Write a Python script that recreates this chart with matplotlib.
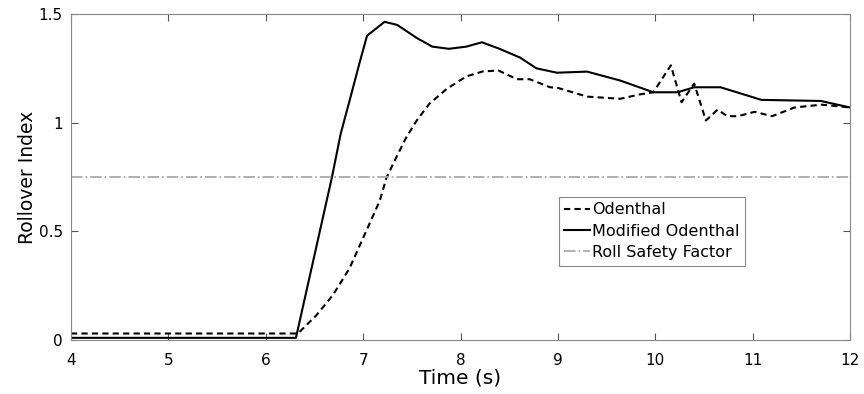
import matplotlib.pyplot as plt

plt.rcParams['font.family'] = ['DejaVu Sans']

# Odenthal rollover index
t_od = [4.0, 6.33, 6.52, 6.69, 6.86, 7.03, 7.17, 7.24, 7.34, 7.44, 7.55, 7.68,
        7.86, 8.06, 8.23, 8.39, 8.58, 8.71, 8.92, 9.0, 9.3, 9.64, 9.84, 9.98,
        10.16, 10.27, 10.40, 10.52, 10.64, 10.74, 10.85, 11.02, 11.20, 11.43,
        11.71, 12.0]
ri_od = [0.03, 0.03, 0.114, 0.207, 0.33, 0.50, 0.64, 0.747, 0.84, 0.93, 1.01,
         1.087, 1.156, 1.213, 1.236, 1.24, 1.20, 1.20, 1.163, 1.16, 1.12, 1.11,
         1.13, 1.14, 1.264, 1.094, 1.18, 1.01, 1.06, 1.03, 1.03, 1.05, 1.03,
         1.07, 1.083, 1.07]

# Modified Odenthal rollover index
t_mod = [4.0, 6.31, 6.68, 6.77, 6.86, 6.96, 7.04, 7.22, 7.35, 7.55, 7.71, 7.88,
         8.06, 8.22, 8.40, 8.61, 8.78, 8.99, 9.3, 9.64, 9.98, 10.23, 10.40,
         10.67, 11.09, 11.70, 12.0]
ri_mod = [0.01, 0.01, 0.75, 0.95, 1.10, 1.27, 1.40, 1.464, 1.45, 1.39, 1.35,
          1.34, 1.35, 1.37, 1.34, 1.30, 1.25, 1.23, 1.235, 1.194, 1.14, 1.14,
          1.163, 1.163, 1.105, 1.10, 1.07]

safety = 0.75

fig = plt.figure(figsize=(8.64, 3.94), dpi=100)
ax = fig.add_axes([0.0822, 0.137, 0.9016, 0.8274])

ax.plot(t_od, ri_od, color='black', linestyle=(0, (3, 2)), linewidth=1.5,
        label='Odenthal')
ax.plot(t_mod, ri_mod, color='black', linestyle='-', linewidth=1.5,
        label='Modified Odenthal')
ax.plot([4, 12], [safety, safety], color='#aaaaaa', linestyle='-.',
        linewidth=1.3, label='Roll Safety Factor')

ax.set_xlim(4, 12)
ax.set_ylim(0, 1.5)
ax.set_xticks(range(4, 13))
ax.set_yticks([0, 0.5, 1, 1.5])
ax.set_yticklabels(['0', '0.5', '1', '1.5'])
ax.tick_params(direction='in', top=True, right=True, length=5,
               labelsize=11, color='#555555')
ax.tick_params(axis='x', pad=9)
ax.tick_params(axis='y', pad=6)
for s in ax.spines.values():
    s.set_color('#888888')

ax.set_xlabel('Time (s)', fontsize=14.5, labelpad=1)
ax.set_ylabel('Rollover Index', fontsize=13.5, labelpad=1)

leg = ax.legend(loc='upper left', bbox_to_anchor=(0.626, 0.44), fontsize=11.5,
                handlelength=1.6, handletextpad=0.15, borderpad=0.35,
                labelspacing=0.4, fancybox=False, framealpha=1,
                edgecolor='#888888', borderaxespad=0)
leg.get_frame().set_linewidth(0.8)

fig.savefig('out.png', dpi=100)
